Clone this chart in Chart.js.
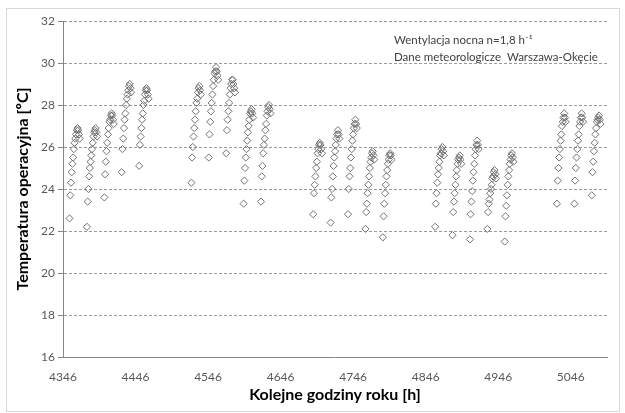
<!DOCTYPE html>
<html>
<head>
<meta charset="utf-8">
<script src="https://cdn.jsdelivr.net/npm/chart.js@4.4.1/dist/chart.umd.min.js"></script>
<style>
  html, body { margin: 0; padding: 0; background: #fff; }
  #wrap { width: 625px; height: 413px; position: relative; }
</style>
</head>
<body>
<div id="wrap"><canvas id="tempChart"></canvas></div>
<script>
// godzina pierwszego punktu każdego dnia (5 dni roboczych na tydzień)
const dayStarts = [
  4355, 4379, 4403, 4427, 4451,
  4523, 4547, 4571, 4595, 4619,
  4691, 4715, 4739, 4763, 4787,
  4859, 4883, 4907, 4931, 4955,
  5027, 5051, 5075
];

// temperatura operacyjna [ºC] – kolejne godziny każdego dnia
const week1 = [
  [22.6, 23.7, 24.3, 24.8, 25.2, 25.5, 25.9, 26.2, 26.4, 26.6, 26.8, 26.9, 26.8, 26.6, 26.4],
  [22.2, 23.4, 24.0, 24.6, 25.0, 25.3, 25.6, 25.9, 26.2, 26.5, 26.7, 26.8, 26.9, 26.7, 26.5],
  [23.6, 24.7, 25.3, 25.8, 26.2, 26.6, 26.9, 27.2, 27.3, 27.5, 27.6, 27.5, 27.3, 27.1],
  [24.8, 25.9, 26.4, 26.9, 27.3, 27.6, 28.0, 28.3, 28.5, 28.7, 28.9, 29.0, 28.8, 28.6],
  [25.1, 26.1, 26.5, 26.9, 27.3, 27.6, 28.0, 28.2, 28.5, 28.7, 28.8, 28.7, 28.5, 28.3]
];
const week2 = [
  [24.3, 25.5, 26.0, 26.5, 26.9, 27.3, 27.7, 28.1, 28.3, 28.6, 28.8, 28.9, 28.7, 28.5],
  [25.5, 26.6, 27.2, 27.7, 28.1, 28.5, 28.9, 29.2, 29.5, 29.6, 29.8, 29.6, 29.4, 29.2],
  [25.7, 26.8, 27.3, 27.7, 28.1, 28.5, 28.8, 29.0, 29.2, 29.2, 29.0, 28.8, 28.6],
  [23.3, 24.4, 25.0, 25.5, 25.9, 26.3, 26.7, 27.0, 27.3, 27.6, 27.7, 27.8, 27.6, 27.4],
  [23.4, 24.6, 25.1, 25.7, 26.1, 26.4, 26.8, 27.1, 27.5, 27.7, 27.9, 28.0, 27.8, 27.6]
];
const week3 = [
  [22.8, 23.8, 24.2, 24.6, 25.0, 25.3, 25.7, 25.9, 26.1, 26.2, 26.1, 25.9, 25.7],
  [22.4, 23.6, 24.0, 24.6, 25.1, 25.5, 25.8, 26.1, 26.4, 26.6, 26.8, 26.6, 26.4],
  [22.8, 24.0, 24.6, 25.0, 25.5, 25.9, 26.3, 26.6, 26.9, 27.1, 27.3, 27.1, 26.9],
  [22.1, 22.9, 23.3, 23.8, 24.2, 24.6, 25.0, 25.3, 25.5, 25.7, 25.8, 25.6, 25.4],
  [21.7, 22.7, 23.3, 23.8, 24.2, 24.6, 24.9, 25.2, 25.4, 25.6, 25.7, 25.6, 25.4]
];
const week4 = [
  [22.2, 23.3, 23.8, 24.3, 24.7, 25.0, 25.3, 25.6, 25.7, 25.9, 26.0, 25.8, 25.6],
  [21.8, 22.9, 23.4, 23.8, 24.2, 24.6, 24.9, 25.2, 25.4, 25.5, 25.6, 25.4, 25.2],
  [21.6, 22.8, 23.4, 23.9, 24.4, 24.8, 25.2, 25.6, 25.9, 26.1, 26.3, 26.1, 25.9],
  [22.1, 22.9, 23.3, 23.5, 23.8, 24.0, 24.2, 24.5, 24.6, 24.8, 24.9, 24.7, 24.5],
  [21.5, 22.7, 23.2, 23.7, 24.2, 24.6, 24.9, 25.2, 25.4, 25.6, 25.7, 25.5, 25.3]
];
const week5 = [
  [23.3, 24.4, 25.0, 25.5, 25.9, 26.3, 26.6, 27.0, 27.2, 27.4, 27.6, 27.4, 27.2],
  [23.3, 24.4, 25.0, 25.5, 25.9, 26.3, 26.6, 27.0, 27.2, 27.4, 27.6, 27.4, 27.2],
  [23.7, 24.8, 25.3, 25.8, 26.2, 26.6, 26.9, 27.2, 27.3, 27.4, 27.5, 27.3, 27.1]
];

const xTicks = [4346, 4446, 4546, 4646, 4746, 4846, 4946, 5046];
const yTicks = [16, 18, 20, 22, 24, 26, 28, 30, 32];

const noteLines = ['Wentylacja nocna n=1,8 h\u207B\u00B9', 'Dane meteorologicze  Warszawa-Okęcie'];

// budowa punktów
const allDays = [].concat(week1, week2, week3, week4, week5);
const points = [];
allDays.forEach((temps, d) => {
  temps.forEach((t, i) => points.push({ x: dayStarts[d] + i, y: t }));
});

const frameAndNote = {
  id: 'frameAndNote',
  afterDraw(chart) {
    const ctx = chart.ctx;
    ctx.save();
    ctx.strokeStyle = '#d9d9d9';
    ctx.lineWidth = 1;
    ctx.strokeRect(6.5, 8.5, 613, 403);
    ctx.fillStyle = '#404040';
    ctx.font = '11.5px Lato, "Open Sans", sans-serif';
    ctx.textBaseline = 'middle';
    ctx.fillText(noteLines[0], 394, 40);
    ctx.fillText(noteLines[1], 394, 57);
    ctx.restore();
  }
};

new Chart(document.getElementById('tempChart'), {
  type: 'scatter',
  data: {
    datasets: [{
      data: points,
      pointStyle: 'rectRot',
      pointRadius: 3.6,
      pointBorderWidth: 1,
      pointBorderColor: '#727272',
      pointBackgroundColor: 'rgba(255,255,255,0)'
    }]
  },
  options: {
    responsive: true,
    maintainAspectRatio: false,
    animation: false,
    layout: { padding: { left: 13, top: 21, right: 18, bottom: 9 } },
    plugins: { legend: { display: false }, tooltip: { enabled: false } },
    scales: {
      x: {
        type: 'linear',
        min: 4346,
        max: 5096,
        afterBuildTicks: (axis) => { axis.ticks = xTicks.map(v => ({ value: v })); },
        afterFit: (axis) => { axis.height = 47; },
        grid: { display: false, drawOnChartArea: false, tickLength: 5, color: '#868686' },
        border: { display: true, color: '#868686' },
        ticks: {
          color: '#595959',
          font: { family: 'Lato', size: 12 },
          padding: 8,
          maxRotation: 0,
          callback: (v) => String(v)
        },
        title: {
          display: true,
          text: 'Kolejne godziny roku [h]',
          color: '#000',
          font: { family: 'Lato', size: 16, weight: 'bold' },
          padding: { top: 0, bottom: 0 }
        }
      },
      y: {
        min: 16,
        max: 32,
        afterBuildTicks: (axis) => { axis.ticks = yTicks.map(v => ({ value: v })); },
        afterFit: (axis) => { axis.width = 50; },
        grid: {
          color: (c) => c.tick && c.tick.value === 16 ? 'rgba(0,0,0,0)' : '#9a9a9a',
          tickColor: '#868686',
          tickLength: 5,
          tickBorderDash: [0, 0]
        },
        border: { display: true, color: '#868686', dash: [3, 2] },
        ticks: { color: '#595959', font: { family: 'Lato', size: 12 }, padding: 3 },
        title: {
          display: true,
          text: 'Temperatura operacyjna [ºC]',
          color: '#000',
          font: { family: 'Lato', size: 16, weight: 'bold' },
          padding: { top: 0, bottom: 0 }
        }
      }
    }
  },
  plugins: [frameAndNote]
});
</script>
</body>
</html>
